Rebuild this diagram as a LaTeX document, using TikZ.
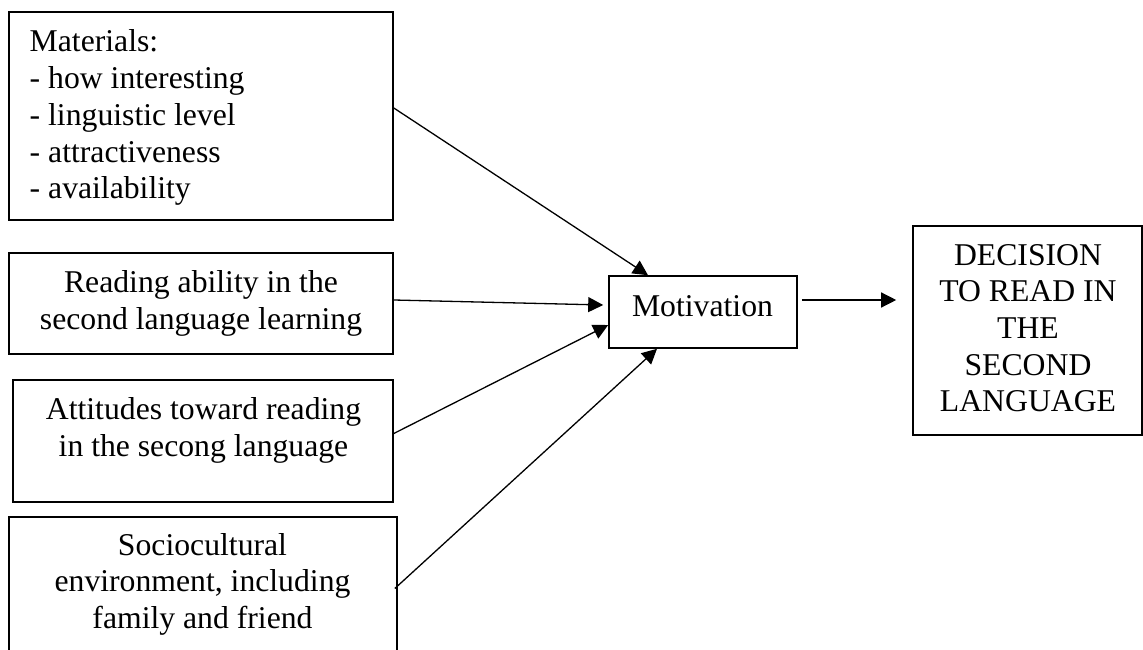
\documentclass[tikz,border=0pt]{standalone}
\usepackage{fontspec}
\setmainfont{Liberation Serif}
\usetikzlibrary{arrows.meta}
\tikzset{
  box/.style={draw=black, line width=1.6pt, rectangle, inner sep=0pt, fill=none},
  txt/.style={inner sep=0pt, anchor=base, font=\fontsize{31.7pt}{36.7pt}\selectfont},
  txtl/.style={txt, anchor=base west},
  conn/.style={draw=black, line width=1.3pt, -{Triangle[length=15pt,width=15pt]}}
}
\begin{document}
\begin{tikzpicture}[x=1pt, y=-1pt]
\useasboundingbox (0,0) rectangle (1143,650);
\fill[white] (0,0) rectangle (1143,650);
% boxes
\node[box, minimum width=384pt, minimum height=208pt] (b1) at (201,116) {};
\node[box, minimum width=384pt, minimum height=101pt] (b2) at (201,303.5) {};
\node[box, minimum width=380pt, minimum height=122pt] (b3) at (203,441) {};
\node[box, minimum width=388pt, minimum height=136pt] (b4) at (203,585) {};
\node[box, minimum width=188pt, minimum height=72pt] (mot) at (703,312) {};
\node[box, minimum width=229pt, minimum height=209pt] (dec) at (1027.5,330.5) {};
% texts
\node[txtl] (t1) at (29.5,52) {\begin{tabular}[t]{@{}l@{}}Materials:\\- how interesting\\- linguistic level\\- attractiveness\\- availability\end{tabular}};
\node[txt] (t2) at (201,292.3) {\begin{tabular}[t]{@{}c@{}}Reading ability in the\\second language learning\end{tabular}};
\node[txt] (t3) at (203.5,419.3) {\begin{tabular}[t]{@{}c@{}}Attitudes toward reading\\in the secong language\end{tabular}};
\node[txt] (t4) at (202.5,555) {\begin{tabular}[t]{@{}c@{}}Sociocultural\\environment, including\\family and friend\end{tabular}};
\node[txt] (tm) at (702.5,316.7) {Motivation};
\node[txt] (td) at (1028,265) {\begin{tabular}[t]{@{}c@{}}DECISION\\TO READ IN\\THE\\SECOND\\LANGUAGE\end{tabular}};
% connectors
\draw[conn] ([yshift=8pt]b1.east) -- ([xshift=-55pt]mot.north);
\draw[conn] ([yshift=3.5pt]b2.east) -- ([xshift=-5pt,yshift=7pt]mot.west);
\draw[conn] ([yshift=7.5pt]b3.east) -- ([yshift=-13pt]mot.west);
\draw[conn] ([xshift=-3pt,yshift=-3.5pt]b4.east) -- ([xshift=-46pt]mot.south);
\draw[conn] ([xshift=4pt,yshift=12pt]mot.east) -- ([xshift=-16pt,yshift=30.5pt]dec.west);
\end{tikzpicture}
\end{document}
